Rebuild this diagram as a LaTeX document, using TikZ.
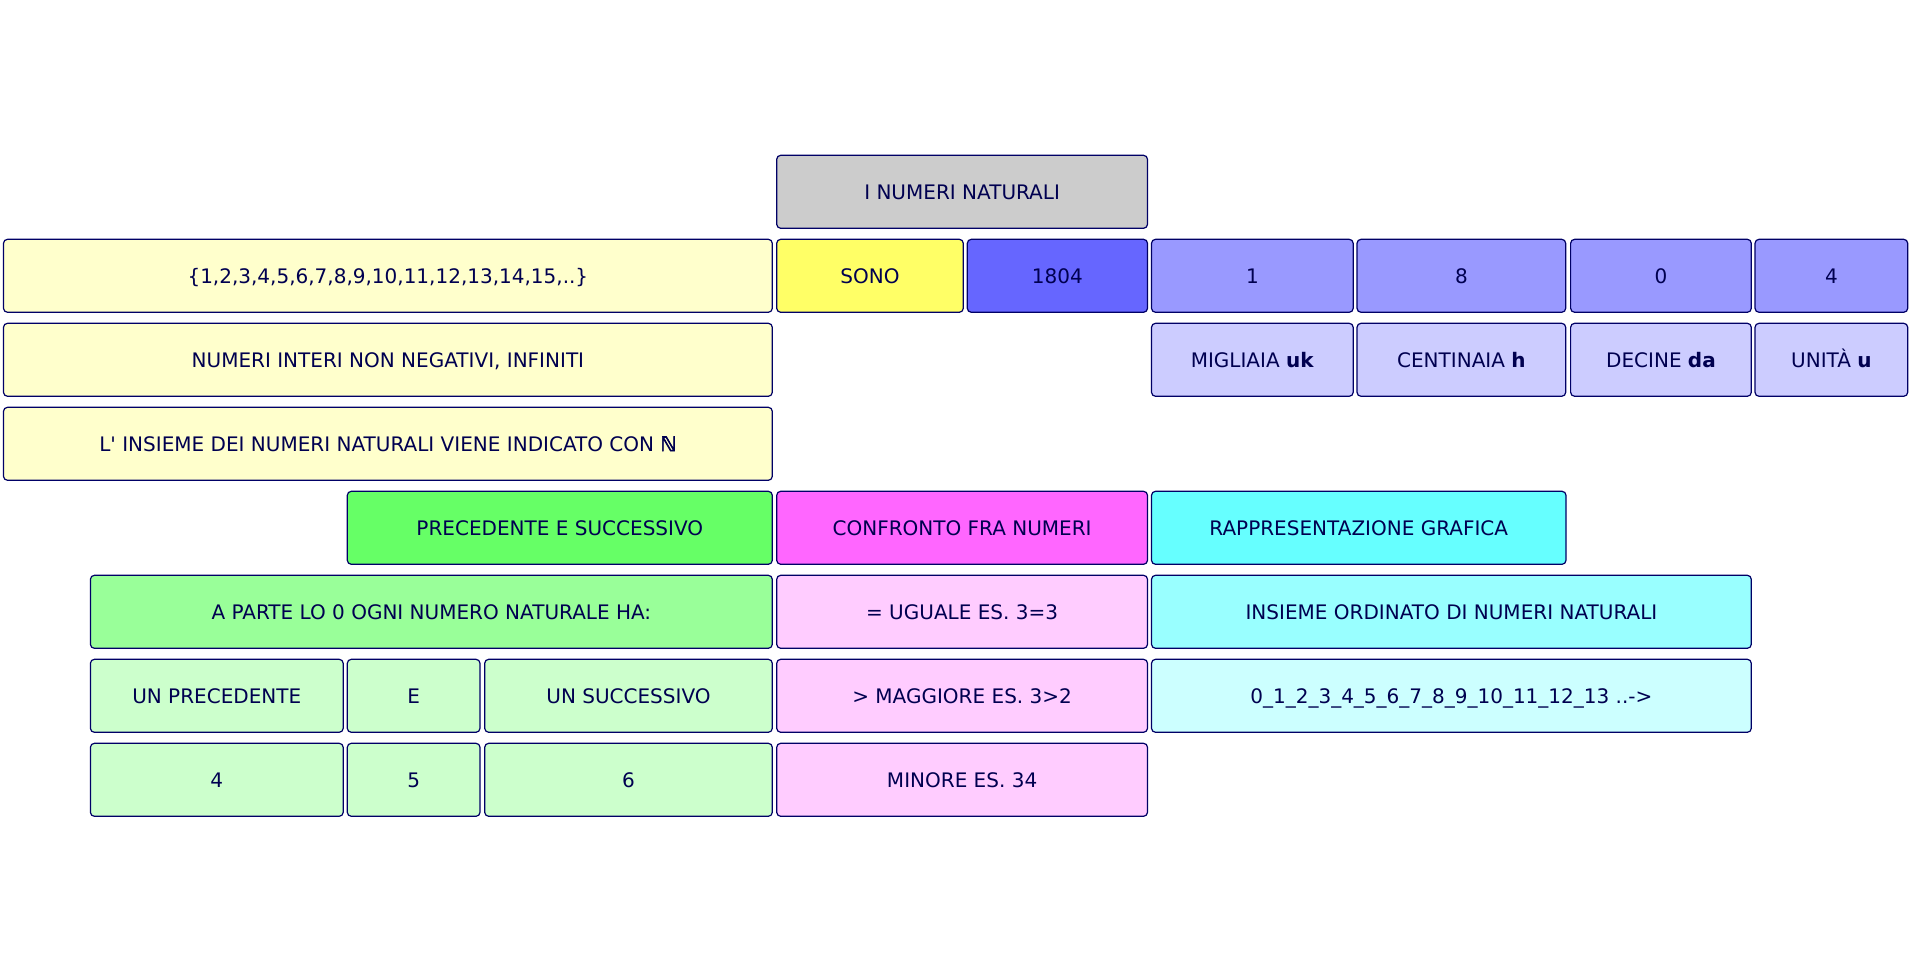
\documentclass[tikz,border=0pt]{standalone}
\usepackage{fontspec}
\setmainfont{DejaVu Sans}[Ligatures=TeXOff]
\newfontfamily\bbfont{DejaVu Sans}[FakeBold=3]
\definecolor{txt}{RGB}{0,0,80}
\definecolor{brd}{RGB}{0,0,102}
\definecolor{cgray}{HTML}{CCCCCC}
\definecolor{cyel}{HTML}{FFFFCC}
\definecolor{csono}{HTML}{FFFF66}
\definecolor{cbluedk}{HTML}{6666FF}
\definecolor{cbluemd}{HTML}{9999FF}
\definecolor{cbluelt}{HTML}{CCCCFF}
\definecolor{cgrndk}{HTML}{66FF66}
\definecolor{cgrnmd}{HTML}{99FF99}
\definecolor{cgrnlt}{HTML}{CCFFCC}
\definecolor{cpnkdk}{HTML}{FF66FF}
\definecolor{cpnklt}{HTML}{FFCCFF}
\definecolor{ccyndk}{HTML}{66FFFF}
\definecolor{ccynmd}{HTML}{99FFFF}
\definecolor{ccynlt}{HTML}{CCFFFF}
\tikzset{cell/.style={draw=brd, line width=0.6pt, rounded corners=2pt, rectangle,
  inner sep=0pt, outer sep=0pt, text=txt, text height=7.3pt, text depth=0pt,
  font=\fontsize{10}{12}\selectfont}}
% #1 name, #2 x1, #3 x2, #4 row, #5 fill, #6 text
\newcommand\cellnode[6]{%
  \node[cell, fill=#5, minimum width={(#3-#2)*0.5pt}, minimum height=36.5pt]
    (#1) at ({(#2+#3)/2},{155.3+84*#4+36.5}) {#6};}
\begin{document}
\begin{tikzpicture}[x=0.5pt,y=-0.5pt]
\useasboundingbox (0,0) rectangle (1915,963);
% row 0
\cellnode{title}{776.7}{1147.5}{0}{cgray}{I NUMERI NATURALI}
% row 1
\cellnode{set}{3.5}{772.3}{1}{cyel}{\{1,2,3,4,5,6,7,8,9,10,11,12,13,14,15,..\}}
\cellnode{sono}{776.7}{963.3}{1}{csono}{SONO}
\cellnode{num}{967.3}{1147.5}{1}{cbluedk}{1804}
\cellnode{d1}{1151.5}{1353.2}{1}{cbluemd}{1}
\cellnode{d8}{1357}{1565.7}{1}{cbluemd}{8}
\cellnode{d0}{1570.6}{1751.3}{1}{cbluemd}{0}
\cellnode{d4}{1755}{1907.7}{1}{cbluemd}{4}
% row 2
\cellnode{interi}{3.5}{772.3}{2}{cyel}{NUMERI INTERI NON NEGATIVI, INFINITI}
\cellnode{migl}{1151.5}{1353.2}{2}{cbluelt}{MIGLIAIA \textbf{uk}}
\cellnode{cent}{1357}{1565.7}{2}{cbluelt}{CENTINAIA \textbf{h}}
\cellnode{dec}{1570.6}{1751.3}{2}{cbluelt}{DECINE \textbf{da}}
\cellnode{unit}{1755}{1907.7}{2}{cbluelt}{UNITÀ \textbf{u}}
% row 3
\cellnode{insN}{3.5}{772.3}{3}{cyel}{L' INSIEME DEI NUMERI NATURALI VIENE INDICATO CON {\bbfont ℕ}}
% row 4
\cellnode{precsucc}{347.3}{772.3}{4}{cgrndk}{PRECEDENTE E SUCCESSIVO}
\cellnode{confr}{776.7}{1147.5}{4}{cpnkdk}{CONFRONTO FRA NUMERI}
\cellnode{rappr}{1151.5}{1566}{4}{ccyndk}{RAPPRESENTAZIONE GRAFICA}
% row 5
\cellnode{aparte}{90.4}{772.3}{5}{cgrnmd}{A PARTE LO 0 OGNI NUMERO NATURALE HA:}
\cellnode{uguale}{776.7}{1147.5}{5}{cpnklt}{= UGUALE ES. 3=3}
\cellnode{ordin}{1151.5}{1751.3}{5}{ccynmd}{INSIEME ORDINATO DI NUMERI NATURALI}
% row 6
\cellnode{unprec}{90.4}{343.2}{6}{cgrnlt}{UN PRECEDENTE}
\cellnode{e}{347.3}{480}{6}{cgrnlt}{E}
\cellnode{unsucc}{484.7}{772.3}{6}{cgrnlt}{UN SUCCESSIVO}
\cellnode{magg}{776.7}{1147.5}{6}{cpnklt}{> MAGGIORE ES. 3>2}
\cellnode{line}{1151.5}{1751.3}{6}{ccynlt}{0\_1\_2\_3\_4\_5\_6\_7\_8\_9\_10\_11\_12\_13 ..->}
% row 7
\cellnode{q4}{90.4}{343.2}{7}{cgrnlt}{4}
\cellnode{q5}{347.3}{480}{7}{cgrnlt}{5}
\cellnode{q6}{484.7}{772.3}{7}{cgrnlt}{6}
\cellnode{minore}{776.7}{1147.5}{7}{cpnklt}{MINORE ES. 34}
\end{tikzpicture}
\end{document}
